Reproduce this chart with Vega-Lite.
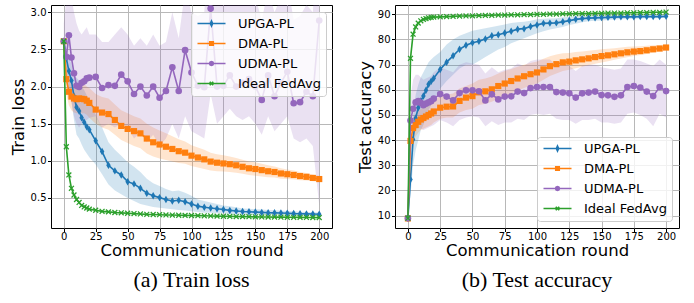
{
"$schema": "https://vega.github.io/schema/vega-lite/v6.json",
"background": "white",
"padding": {"left": 9, "top": 4, "right": 5, "bottom": 5},
"spacing": 63,
"bounds": "flush",
"config": {
  "font": "DejaVu Sans",
  "view": {"stroke": "#000", "strokeWidth": 1},
  "axis": {"domain": false, "grid": true, "gridColor": "#b8b8b8", "gridWidth": 1, "tickColor": "#000", "tickSize": 3.5, "tickWidth": 1, "labelFont": "DejaVu Sans", "labelFontSize": 10, "labelColor": "#000", "labelPadding": 1.5, "titleFont": "DejaVu Sans", "titleFontSize": 16.5, "titleFontWeight": "normal", "titleColor": "#000", "labelFlush": false},
  "axisX": {"titlePadding": 1, "labelPadding": 0},
  "legend": {"orient": "none", "title": null, "symbolSize": 100, "symbolStrokeWidth": 1.6, "symbolOpacity": 1, "labelFont": "DejaVu Sans", "labelFontSize": 13, "labelColor": "#000", "labelOffset": 29, "labelLimit": 300, "padding": 5, "rowPadding": 6, "fillColor": "rgba(255,255,255,0.8)", "strokeColor": "#cccccc", "cornerRadius": 3}
},
"resolve": {"scale": {"x": "independent", "y": "independent", "color": "independent", "stroke": "independent", "shape": "independent"}, "legend": {"color": "independent", "stroke": "independent", "shape": "independent"}},
"datasets": {
"loss": [
{"round":0,"series":"UPGA-PL","value":2.61,"lo":2.55,"hi":2.67},
{"round":2,"series":"UPGA-PL","value":2.38,"lo":2.2,"hi":2.5},
{"round":4,"series":"UPGA-PL","value":2.21,"lo":1.95,"hi":2.4},
{"round":6,"series":"UPGA-PL","value":2.08,"lo":1.8,"hi":2.3},
{"round":8,"series":"UPGA-PL","value":1.87,"lo":1.55,"hi":2.15},
{"round":10,"series":"UPGA-PL","value":1.72,"lo":1.35,"hi":2.12},
{"round":12,"series":"UPGA-PL","value":1.67,"lo":1.3,"hi":2.08},
{"round":14,"series":"UPGA-PL","value":1.58,"lo":1.22,"hi":2.0},
{"round":16,"series":"UPGA-PL","value":1.52,"lo":1.15,"hi":1.95},
{"round":18,"series":"UPGA-PL","value":1.46,"lo":1.1,"hi":1.88},
{"round":20,"series":"UPGA-PL","value":1.42,"lo":1.05,"hi":1.82},
{"round":25,"series":"UPGA-PL","value":1.27,"lo":0.95,"hi":1.62},
{"round":30,"series":"UPGA-PL","value":1.125,"lo":0.82,"hi":1.45},
{"round":35,"series":"UPGA-PL","value":0.94,"lo":0.68,"hi":1.25},
{"round":40,"series":"UPGA-PL","value":0.865,"lo":0.6,"hi":1.15},
{"round":45,"series":"UPGA-PL","value":0.81,"lo":0.55,"hi":1.07},
{"round":50,"series":"UPGA-PL","value":0.72,"lo":0.5,"hi":0.98},
{"round":55,"series":"UPGA-PL","value":0.69,"lo":0.46,"hi":0.92},
{"round":60,"series":"UPGA-PL","value":0.63,"lo":0.42,"hi":0.85},
{"round":65,"series":"UPGA-PL","value":0.565,"lo":0.4,"hi":0.76},
{"round":70,"series":"UPGA-PL","value":0.53,"lo":0.38,"hi":0.7},
{"round":75,"series":"UPGA-PL","value":0.505,"lo":0.37,"hi":0.66},
{"round":80,"series":"UPGA-PL","value":0.48,"lo":0.36,"hi":0.62},
{"round":85,"series":"UPGA-PL","value":0.46,"lo":0.35,"hi":0.59},
{"round":90,"series":"UPGA-PL","value":0.47,"lo":0.34,"hi":0.6},
{"round":95,"series":"UPGA-PL","value":0.45,"lo":0.33,"hi":0.57},
{"round":100,"series":"UPGA-PL","value":0.42,"lo":0.32,"hi":0.53},
{"round":105,"series":"UPGA-PL","value":0.39,"lo":0.31,"hi":0.48},
{"round":110,"series":"UPGA-PL","value":0.375,"lo":0.3,"hi":0.46},
{"round":115,"series":"UPGA-PL","value":0.365,"lo":0.3,"hi":0.44},
{"round":120,"series":"UPGA-PL","value":0.355,"lo":0.295,"hi":0.42},
{"round":125,"series":"UPGA-PL","value":0.345,"lo":0.29,"hi":0.4},
{"round":130,"series":"UPGA-PL","value":0.333,"lo":0.285,"hi":0.39},
{"round":135,"series":"UPGA-PL","value":0.325,"lo":0.28,"hi":0.375},
{"round":140,"series":"UPGA-PL","value":0.318,"lo":0.28,"hi":0.36},
{"round":145,"series":"UPGA-PL","value":0.314,"lo":0.278,"hi":0.355},
{"round":150,"series":"UPGA-PL","value":0.31,"lo":0.276,"hi":0.35},
{"round":155,"series":"UPGA-PL","value":0.306,"lo":0.275,"hi":0.345},
{"round":160,"series":"UPGA-PL","value":0.302,"lo":0.274,"hi":0.34},
{"round":165,"series":"UPGA-PL","value":0.3,"lo":0.273,"hi":0.335},
{"round":170,"series":"UPGA-PL","value":0.297,"lo":0.272,"hi":0.33},
{"round":175,"series":"UPGA-PL","value":0.294,"lo":0.27,"hi":0.325},
{"round":180,"series":"UPGA-PL","value":0.29,"lo":0.268,"hi":0.32},
{"round":185,"series":"UPGA-PL","value":0.288,"lo":0.267,"hi":0.315},
{"round":190,"series":"UPGA-PL","value":0.286,"lo":0.266,"hi":0.312},
{"round":195,"series":"UPGA-PL","value":0.285,"lo":0.264,"hi":0.308},
{"round":200,"series":"UPGA-PL","value":0.282,"lo":0.262,"hi":0.305},
{"round":0,"series":"DMA-PL","value":2.61,"lo":2.55,"hi":2.67},
{"round":2,"series":"DMA-PL","value":2.1,"lo":1.9,"hi":2.3},
{"round":4,"series":"DMA-PL","value":1.93,"lo":1.75,"hi":2.12},
{"round":6,"series":"DMA-PL","value":1.865,"lo":1.68,"hi":2.05},
{"round":8,"series":"DMA-PL","value":1.84,"lo":1.65,"hi":2.03},
{"round":10,"series":"DMA-PL","value":1.83,"lo":1.64,"hi":2.02},
{"round":12,"series":"DMA-PL","value":1.84,"lo":1.64,"hi":2.03},
{"round":14,"series":"DMA-PL","value":1.835,"lo":1.64,"hi":2.03},
{"round":16,"series":"DMA-PL","value":1.83,"lo":1.64,"hi":2.03},
{"round":18,"series":"DMA-PL","value":1.81,"lo":1.62,"hi":2.0},
{"round":20,"series":"DMA-PL","value":1.78,"lo":1.58,"hi":1.98},
{"round":25,"series":"DMA-PL","value":1.69,"lo":1.5,"hi":1.9},
{"round":30,"series":"DMA-PL","value":1.65,"lo":1.45,"hi":1.86},
{"round":35,"series":"DMA-PL","value":1.63,"lo":1.42,"hi":1.84},
{"round":40,"series":"DMA-PL","value":1.55,"lo":1.35,"hi":1.76},
{"round":45,"series":"DMA-PL","value":1.47,"lo":1.28,"hi":1.68},
{"round":50,"series":"DMA-PL","value":1.43,"lo":1.24,"hi":1.64},
{"round":55,"series":"DMA-PL","value":1.4,"lo":1.2,"hi":1.6},
{"round":60,"series":"DMA-PL","value":1.37,"lo":1.17,"hi":1.57},
{"round":65,"series":"DMA-PL","value":1.3,"lo":1.1,"hi":1.5},
{"round":70,"series":"DMA-PL","value":1.25,"lo":1.06,"hi":1.45},
{"round":75,"series":"DMA-PL","value":1.22,"lo":1.03,"hi":1.41},
{"round":80,"series":"DMA-PL","value":1.19,"lo":1.01,"hi":1.37},
{"round":85,"series":"DMA-PL","value":1.16,"lo":0.99,"hi":1.33},
{"round":90,"series":"DMA-PL","value":1.13,"lo":0.97,"hi":1.29},
{"round":95,"series":"DMA-PL","value":1.11,"lo":0.96,"hi":1.26},
{"round":100,"series":"DMA-PL","value":1.07,"lo":0.93,"hi":1.21},
{"round":105,"series":"DMA-PL","value":1.045,"lo":0.91,"hi":1.18},
{"round":110,"series":"DMA-PL","value":1.02,"lo":0.89,"hi":1.15},
{"round":115,"series":"DMA-PL","value":0.99,"lo":0.87,"hi":1.11},
{"round":120,"series":"DMA-PL","value":0.975,"lo":0.86,"hi":1.09},
{"round":125,"series":"DMA-PL","value":0.965,"lo":0.855,"hi":1.075},
{"round":130,"series":"DMA-PL","value":0.955,"lo":0.85,"hi":1.06},
{"round":135,"series":"DMA-PL","value":0.94,"lo":0.84,"hi":1.04},
{"round":140,"series":"DMA-PL","value":0.92,"lo":0.825,"hi":1.015},
{"round":145,"series":"DMA-PL","value":0.9,"lo":0.81,"hi":0.99},
{"round":150,"series":"DMA-PL","value":0.89,"lo":0.8,"hi":0.98},
{"round":155,"series":"DMA-PL","value":0.875,"lo":0.79,"hi":0.96},
{"round":160,"series":"DMA-PL","value":0.86,"lo":0.78,"hi":0.94},
{"round":165,"series":"DMA-PL","value":0.85,"lo":0.775,"hi":0.925},
{"round":170,"series":"DMA-PL","value":0.83,"lo":0.76,"hi":0.9},
{"round":175,"series":"DMA-PL","value":0.82,"lo":0.755,"hi":0.885},
{"round":180,"series":"DMA-PL","value":0.81,"lo":0.75,"hi":0.87},
{"round":185,"series":"DMA-PL","value":0.795,"lo":0.74,"hi":0.85},
{"round":190,"series":"DMA-PL","value":0.785,"lo":0.735,"hi":0.835},
{"round":195,"series":"DMA-PL","value":0.77,"lo":0.725,"hi":0.815},
{"round":200,"series":"DMA-PL","value":0.755,"lo":0.715,"hi":0.795},
{"round":0,"series":"UDMA-PL","value":2.61,"lo":2.4,"hi":2.85},
{"round":2,"series":"UDMA-PL","value":2.4,"lo":2.1,"hi":3.2},
{"round":4,"series":"UDMA-PL","value":2.69,"lo":1.95,"hi":3.4},
{"round":6,"series":"UDMA-PL","value":2.39,"lo":1.8,"hi":3.2},
{"round":8,"series":"UDMA-PL","value":2.18,"lo":1.6,"hi":3.0},
{"round":10,"series":"UDMA-PL","value":2.01,"lo":1.5,"hi":2.85},
{"round":12,"series":"UDMA-PL","value":1.995,"lo":1.45,"hi":2.75},
{"round":14,"series":"UDMA-PL","value":2.05,"lo":1.5,"hi":2.7},
{"round":16,"series":"UDMA-PL","value":2.07,"lo":1.55,"hi":2.75},
{"round":18,"series":"UDMA-PL","value":2.11,"lo":1.55,"hi":2.8},
{"round":20,"series":"UDMA-PL","value":2.12,"lo":1.58,"hi":2.7},
{"round":25,"series":"UDMA-PL","value":2.13,"lo":1.6,"hi":2.7},
{"round":30,"series":"UDMA-PL","value":1.98,"lo":1.45,"hi":2.6},
{"round":35,"series":"UDMA-PL","value":2.02,"lo":1.5,"hi":2.6},
{"round":40,"series":"UDMA-PL","value":2.01,"lo":1.45,"hi":2.7},
{"round":45,"series":"UDMA-PL","value":2.16,"lo":1.5,"hi":2.8},
{"round":50,"series":"UDMA-PL","value":2.07,"lo":1.45,"hi":2.7},
{"round":55,"series":"UDMA-PL","value":1.9,"lo":1.3,"hi":2.55},
{"round":60,"series":"UDMA-PL","value":2.0,"lo":1.38,"hi":2.65},
{"round":65,"series":"UDMA-PL","value":1.88,"lo":1.25,"hi":2.55},
{"round":70,"series":"UDMA-PL","value":2.0,"lo":1.35,"hi":2.7},
{"round":75,"series":"UDMA-PL","value":1.85,"lo":1.2,"hi":2.55},
{"round":80,"series":"UDMA-PL","value":1.94,"lo":1.3,"hi":2.6},
{"round":85,"series":"UDMA-PL","value":2.26,"lo":1.5,"hi":3.0},
{"round":90,"series":"UDMA-PL","value":1.94,"lo":1.3,"hi":2.65},
{"round":95,"series":"UDMA-PL","value":2.49,"lo":1.6,"hi":3.3},
{"round":100,"series":"UDMA-PL","value":2.19,"lo":1.4,"hi":3.0},
{"round":105,"series":"UDMA-PL","value":2.01,"lo":1.35,"hi":2.95},
{"round":110,"series":"UDMA-PL","value":1.99,"lo":1.3,"hi":3.0},
{"round":115,"series":"UDMA-PL","value":3.05,"lo":1.9,"hi":4.2},
{"round":120,"series":"UDMA-PL","value":2.0,"lo":1.5,"hi":3.1},
{"round":125,"series":"UDMA-PL","value":2.01,"lo":1.6,"hi":3.2},
{"round":130,"series":"UDMA-PL","value":2.15,"lo":1.7,"hi":3.3},
{"round":135,"series":"UDMA-PL","value":2.0,"lo":1.6,"hi":3.1},
{"round":140,"series":"UDMA-PL","value":2.05,"lo":1.55,"hi":3.2},
{"round":145,"series":"UDMA-PL","value":2.1,"lo":1.6,"hi":3.3},
{"round":150,"series":"UDMA-PL","value":2.0,"lo":1.5,"hi":3.2},
{"round":155,"series":"UDMA-PL","value":1.82,"lo":1.35,"hi":2.9},
{"round":160,"series":"UDMA-PL","value":2.15,"lo":1.6,"hi":3.3},
{"round":165,"series":"UDMA-PL","value":1.87,"lo":1.4,"hi":3.0},
{"round":170,"series":"UDMA-PL","value":2.05,"lo":1.5,"hi":3.2},
{"round":175,"series":"UDMA-PL","value":2.2,"lo":1.6,"hi":3.4},
{"round":180,"series":"UDMA-PL","value":1.775,"lo":1.3,"hi":2.9},
{"round":185,"series":"UDMA-PL","value":1.79,"lo":1.25,"hi":2.95},
{"round":190,"series":"UDMA-PL","value":1.93,"lo":1.3,"hi":3.1},
{"round":195,"series":"UDMA-PL","value":1.87,"lo":1.2,"hi":3.0},
{"round":200,"series":"UDMA-PL","value":2.89,"lo":0.4,"hi":4.2},
{"round":0,"series":"Ideal FedAvg","value":2.61,"lo":2.55,"hi":2.67},
{"round":2,"series":"Ideal FedAvg","value":1.19,"lo":1.12,"hi":1.26},
{"round":4,"series":"Ideal FedAvg","value":0.81,"lo":0.77,"hi":0.85},
{"round":6,"series":"Ideal FedAvg","value":0.63,"lo":0.6,"hi":0.66},
{"round":8,"series":"Ideal FedAvg","value":0.54,"lo":0.52,"hi":0.56},
{"round":10,"series":"Ideal FedAvg","value":0.48,"lo":0.465,"hi":0.495},
{"round":12,"series":"Ideal FedAvg","value":0.44,"lo":0.43,"hi":0.45},
{"round":14,"series":"Ideal FedAvg","value":0.4,"lo":0.39,"hi":0.41},
{"round":16,"series":"Ideal FedAvg","value":0.38,"lo":0.37,"hi":0.39},
{"round":18,"series":"Ideal FedAvg","value":0.365,"lo":0.356,"hi":0.374},
{"round":20,"series":"Ideal FedAvg","value":0.35,"lo":0.342,"hi":0.358},
{"round":25,"series":"Ideal FedAvg","value":0.335,"lo":0.328,"hi":0.342},
{"round":30,"series":"Ideal FedAvg","value":0.32,"lo":0.314,"hi":0.326},
{"round":35,"series":"Ideal FedAvg","value":0.313,"lo":0.307,"hi":0.319},
{"round":40,"series":"Ideal FedAvg","value":0.305,"lo":0.3,"hi":0.31},
{"round":45,"series":"Ideal FedAvg","value":0.3,"lo":0.295,"hi":0.305},
{"round":50,"series":"Ideal FedAvg","value":0.295,"lo":0.29,"hi":0.3},
{"round":55,"series":"Ideal FedAvg","value":0.29,"lo":0.285,"hi":0.295},
{"round":60,"series":"Ideal FedAvg","value":0.285,"lo":0.28,"hi":0.29},
{"round":65,"series":"Ideal FedAvg","value":0.28,"lo":0.276,"hi":0.284},
{"round":70,"series":"Ideal FedAvg","value":0.278,"lo":0.274,"hi":0.282},
{"round":75,"series":"Ideal FedAvg","value":0.275,"lo":0.271,"hi":0.279},
{"round":80,"series":"Ideal FedAvg","value":0.272,"lo":0.268,"hi":0.276},
{"round":85,"series":"Ideal FedAvg","value":0.27,"lo":0.266,"hi":0.274},
{"round":90,"series":"Ideal FedAvg","value":0.268,"lo":0.264,"hi":0.272},
{"round":95,"series":"Ideal FedAvg","value":0.266,"lo":0.262,"hi":0.27},
{"round":100,"series":"Ideal FedAvg","value":0.264,"lo":0.26,"hi":0.268},
{"round":105,"series":"Ideal FedAvg","value":0.262,"lo":0.258,"hi":0.266},
{"round":110,"series":"Ideal FedAvg","value":0.26,"lo":0.256,"hi":0.264},
{"round":115,"series":"Ideal FedAvg","value":0.258,"lo":0.254,"hi":0.262},
{"round":120,"series":"Ideal FedAvg","value":0.256,"lo":0.252,"hi":0.26},
{"round":125,"series":"Ideal FedAvg","value":0.254,"lo":0.25,"hi":0.258},
{"round":130,"series":"Ideal FedAvg","value":0.252,"lo":0.248,"hi":0.256},
{"round":135,"series":"Ideal FedAvg","value":0.25,"lo":0.246,"hi":0.254},
{"round":140,"series":"Ideal FedAvg","value":0.249,"lo":0.245,"hi":0.253},
{"round":145,"series":"Ideal FedAvg","value":0.248,"lo":0.244,"hi":0.252},
{"round":150,"series":"Ideal FedAvg","value":0.246,"lo":0.242,"hi":0.25},
{"round":155,"series":"Ideal FedAvg","value":0.245,"lo":0.241,"hi":0.249},
{"round":160,"series":"Ideal FedAvg","value":0.244,"lo":0.24,"hi":0.248},
{"round":165,"series":"Ideal FedAvg","value":0.243,"lo":0.239,"hi":0.247},
{"round":170,"series":"Ideal FedAvg","value":0.242,"lo":0.238,"hi":0.246},
{"round":175,"series":"Ideal FedAvg","value":0.241,"lo":0.237,"hi":0.245},
{"round":180,"series":"Ideal FedAvg","value":0.24,"lo":0.236,"hi":0.244},
{"round":185,"series":"Ideal FedAvg","value":0.239,"lo":0.235,"hi":0.243},
{"round":190,"series":"Ideal FedAvg","value":0.238,"lo":0.234,"hi":0.242},
{"round":195,"series":"Ideal FedAvg","value":0.237,"lo":0.233,"hi":0.241},
{"round":200,"series":"Ideal FedAvg","value":0.236,"lo":0.232,"hi":0.24}
],
"acc": [
{"round":0,"series":"UPGA-PL","value":9.0,"lo":8.5,"hi":9.5},
{"round":2,"series":"UPGA-PL","value":24.4,"lo":18,"hi":32},
{"round":4,"series":"UPGA-PL","value":40.3,"lo":30,"hi":50},
{"round":6,"series":"UPGA-PL","value":48.7,"lo":36,"hi":58},
{"round":8,"series":"UPGA-PL","value":52.9,"lo":40,"hi":62},
{"round":10,"series":"UPGA-PL","value":55.6,"lo":44,"hi":65},
{"round":12,"series":"UPGA-PL","value":57.5,"lo":46,"hi":67},
{"round":14,"series":"UPGA-PL","value":59.8,"lo":49,"hi":69},
{"round":16,"series":"UPGA-PL","value":62.2,"lo":52,"hi":71},
{"round":18,"series":"UPGA-PL","value":63.4,"lo":54,"hi":72},
{"round":20,"series":"UPGA-PL","value":64.6,"lo":56,"hi":73},
{"round":25,"series":"UPGA-PL","value":68.1,"lo":60.5,"hi":75},
{"round":30,"series":"UPGA-PL","value":71.0,"lo":63.5,"hi":78},
{"round":35,"series":"UPGA-PL","value":73.5,"lo":66,"hi":80},
{"round":40,"series":"UPGA-PL","value":76.1,"lo":68.5,"hi":81.5},
{"round":45,"series":"UPGA-PL","value":77.7,"lo":70,"hi":82.5},
{"round":50,"series":"UPGA-PL","value":78.7,"lo":70,"hi":83.5},
{"round":55,"series":"UPGA-PL","value":79.3,"lo":71.5,"hi":84},
{"round":60,"series":"UPGA-PL","value":80.2,"lo":73,"hi":84.5},
{"round":65,"series":"UPGA-PL","value":81.5,"lo":74.5,"hi":85},
{"round":70,"series":"UPGA-PL","value":81.9,"lo":76,"hi":85.5},
{"round":75,"series":"UPGA-PL","value":82.6,"lo":77,"hi":86},
{"round":80,"series":"UPGA-PL","value":83.3,"lo":78.5,"hi":86.5},
{"round":85,"series":"UPGA-PL","value":84.1,"lo":79.5,"hi":86.8},
{"round":90,"series":"UPGA-PL","value":84.3,"lo":80.5,"hi":87},
{"round":95,"series":"UPGA-PL","value":85.2,"lo":81.5,"hi":87.4},
{"round":100,"series":"UPGA-PL","value":85.8,"lo":82.5,"hi":88},
{"round":105,"series":"UPGA-PL","value":86.4,"lo":83.3,"hi":88.2},
{"round":110,"series":"UPGA-PL","value":86.5,"lo":84,"hi":88.3},
{"round":115,"series":"UPGA-PL","value":86.6,"lo":84.5,"hi":88.4},
{"round":120,"series":"UPGA-PL","value":87.0,"lo":85,"hi":88.8},
{"round":125,"series":"UPGA-PL","value":87.5,"lo":85.8,"hi":89},
{"round":130,"series":"UPGA-PL","value":88.0,"lo":86.3,"hi":89.2},
{"round":135,"series":"UPGA-PL","value":88.3,"lo":86.8,"hi":89.3},
{"round":140,"series":"UPGA-PL","value":88.5,"lo":87.2,"hi":89.4},
{"round":145,"series":"UPGA-PL","value":88.6,"lo":87.4,"hi":89.4},
{"round":150,"series":"UPGA-PL","value":88.7,"lo":87.5,"hi":89.5},
{"round":155,"series":"UPGA-PL","value":88.8,"lo":87.7,"hi":89.5},
{"round":160,"series":"UPGA-PL","value":88.9,"lo":87.9,"hi":89.6},
{"round":165,"series":"UPGA-PL","value":89.0,"lo":88,"hi":89.6},
{"round":170,"series":"UPGA-PL","value":89.0,"lo":88.1,"hi":89.6},
{"round":175,"series":"UPGA-PL","value":89.0,"lo":88.2,"hi":89.7},
{"round":180,"series":"UPGA-PL","value":89.1,"lo":88.3,"hi":89.7},
{"round":185,"series":"UPGA-PL","value":89.1,"lo":88.4,"hi":89.7},
{"round":190,"series":"UPGA-PL","value":89.1,"lo":88.4,"hi":89.8},
{"round":195,"series":"UPGA-PL","value":89.1,"lo":88.5,"hi":89.8},
{"round":200,"series":"UPGA-PL","value":89.2,"lo":88.6,"hi":89.8},
{"round":0,"series":"DMA-PL","value":8.9,"lo":8.5,"hi":9.3},
{"round":2,"series":"DMA-PL","value":39.7,"lo":35,"hi":44},
{"round":4,"series":"DMA-PL","value":44.8,"lo":40,"hi":49},
{"round":6,"series":"DMA-PL","value":46.0,"lo":41.5,"hi":50.5},
{"round":8,"series":"DMA-PL","value":47.3,"lo":43,"hi":51.5},
{"round":10,"series":"DMA-PL","value":48.2,"lo":44,"hi":52.5},
{"round":12,"series":"DMA-PL","value":48.8,"lo":44.5,"hi":53},
{"round":14,"series":"DMA-PL","value":49.4,"lo":45,"hi":53.8},
{"round":16,"series":"DMA-PL","value":50.0,"lo":45.5,"hi":54.5},
{"round":18,"series":"DMA-PL","value":50.6,"lo":46,"hi":55.2},
{"round":20,"series":"DMA-PL","value":51.4,"lo":47,"hi":56},
{"round":25,"series":"DMA-PL","value":52.9,"lo":48.5,"hi":57.5},
{"round":30,"series":"DMA-PL","value":53.3,"lo":49,"hi":58},
{"round":35,"series":"DMA-PL","value":53.4,"lo":49,"hi":58.5},
{"round":40,"series":"DMA-PL","value":55.6,"lo":51,"hi":60.5},
{"round":45,"series":"DMA-PL","value":56.9,"lo":52,"hi":61.5},
{"round":50,"series":"DMA-PL","value":57.5,"lo":52.5,"hi":62.5},
{"round":55,"series":"DMA-PL","value":59.0,"lo":54,"hi":64},
{"round":60,"series":"DMA-PL","value":59.4,"lo":54.5,"hi":64.5},
{"round":65,"series":"DMA-PL","value":60.2,"lo":55.3,"hi":65.3},
{"round":70,"series":"DMA-PL","value":61.5,"lo":56.5,"hi":66.5},
{"round":75,"series":"DMA-PL","value":62.5,"lo":57.5,"hi":67.5},
{"round":80,"series":"DMA-PL","value":63.5,"lo":58.5,"hi":68.3},
{"round":85,"series":"DMA-PL","value":64.5,"lo":59.7,"hi":69.2},
{"round":90,"series":"DMA-PL","value":65.4,"lo":60.7,"hi":70},
{"round":95,"series":"DMA-PL","value":66.2,"lo":61.7,"hi":70.7},
{"round":100,"series":"DMA-PL","value":66.9,"lo":62.5,"hi":71.3},
{"round":105,"series":"DMA-PL","value":68.1,"lo":64,"hi":72.3},
{"round":110,"series":"DMA-PL","value":69.4,"lo":65.5,"hi":73.3},
{"round":115,"series":"DMA-PL","value":70.2,"lo":66.5,"hi":74},
{"round":120,"series":"DMA-PL","value":70.9,"lo":67.5,"hi":74.5},
{"round":125,"series":"DMA-PL","value":71.2,"lo":68,"hi":74.6},
{"round":130,"series":"DMA-PL","value":71.7,"lo":68.6,"hi":75},
{"round":135,"series":"DMA-PL","value":72.1,"lo":69.2,"hi":75.2},
{"round":140,"series":"DMA-PL","value":72.5,"lo":69.8,"hi":75.5},
{"round":145,"series":"DMA-PL","value":73.0,"lo":70.4,"hi":75.8},
{"round":150,"series":"DMA-PL","value":73.4,"lo":70.9,"hi":76.1},
{"round":155,"series":"DMA-PL","value":73.7,"lo":71.4,"hi":76.3},
{"round":160,"series":"DMA-PL","value":74.1,"lo":71.9,"hi":76.5},
{"round":165,"series":"DMA-PL","value":74.5,"lo":72.4,"hi":76.8},
{"round":170,"series":"DMA-PL","value":74.9,"lo":72.9,"hi":77.1},
{"round":175,"series":"DMA-PL","value":75.2,"lo":73.4,"hi":77.2},
{"round":180,"series":"DMA-PL","value":75.4,"lo":73.8,"hi":77.3},
{"round":185,"series":"DMA-PL","value":75.7,"lo":74.2,"hi":77.5},
{"round":190,"series":"DMA-PL","value":76.1,"lo":74.8,"hi":77.7},
{"round":195,"series":"DMA-PL","value":76.4,"lo":75.3,"hi":77.8},
{"round":200,"series":"DMA-PL","value":76.8,"lo":75.8,"hi":78},
{"round":0,"series":"UDMA-PL","value":9.0,"lo":8.5,"hi":9.5},
{"round":2,"series":"UDMA-PL","value":47.8,"lo":38,"hi":57},
{"round":4,"series":"UDMA-PL","value":52.5,"lo":41,"hi":64},
{"round":6,"series":"UDMA-PL","value":55.0,"lo":44,"hi":66},
{"round":8,"series":"UDMA-PL","value":55.5,"lo":45,"hi":66},
{"round":10,"series":"UDMA-PL","value":54.8,"lo":44.5,"hi":65},
{"round":12,"series":"UDMA-PL","value":53.9,"lo":44,"hi":64},
{"round":14,"series":"UDMA-PL","value":54.5,"lo":44.5,"hi":64.5},
{"round":16,"series":"UDMA-PL","value":55.0,"lo":45,"hi":65},
{"round":18,"series":"UDMA-PL","value":55.5,"lo":45.5,"hi":65.5},
{"round":20,"series":"UDMA-PL","value":56.5,"lo":46,"hi":67},
{"round":25,"series":"UDMA-PL","value":58.3,"lo":48,"hi":69},
{"round":30,"series":"UDMA-PL","value":57.3,"lo":47,"hi":68},
{"round":35,"series":"UDMA-PL","value":55.8,"lo":45.5,"hi":67},
{"round":40,"series":"UDMA-PL","value":58.7,"lo":48,"hi":70},
{"round":45,"series":"UDMA-PL","value":59.8,"lo":49,"hi":71},
{"round":50,"series":"UDMA-PL","value":59.8,"lo":49.5,"hi":70.5},
{"round":55,"series":"UDMA-PL","value":59.4,"lo":49,"hi":70},
{"round":60,"series":"UDMA-PL","value":55.8,"lo":45.5,"hi":66.5},
{"round":65,"series":"UDMA-PL","value":58.2,"lo":47.5,"hi":69},
{"round":70,"series":"UDMA-PL","value":56.2,"lo":46,"hi":67},
{"round":75,"series":"UDMA-PL","value":57.3,"lo":47,"hi":68},
{"round":80,"series":"UDMA-PL","value":57.4,"lo":47,"hi":68.5},
{"round":85,"series":"UDMA-PL","value":59.3,"lo":48.5,"hi":70.5},
{"round":90,"series":"UDMA-PL","value":58.7,"lo":48,"hi":69.5},
{"round":95,"series":"UDMA-PL","value":60.7,"lo":50,"hi":71.5},
{"round":100,"series":"UDMA-PL","value":61.1,"lo":50.5,"hi":72},
{"round":105,"series":"UDMA-PL","value":61.1,"lo":50,"hi":72},
{"round":110,"series":"UDMA-PL","value":61.1,"lo":50.5,"hi":72},
{"round":115,"series":"UDMA-PL","value":59.1,"lo":48.5,"hi":70},
{"round":120,"series":"UDMA-PL","value":58.9,"lo":48,"hi":70},
{"round":125,"series":"UDMA-PL","value":58.6,"lo":48,"hi":69.5},
{"round":130,"series":"UDMA-PL","value":56.9,"lo":46.5,"hi":67.5},
{"round":135,"series":"UDMA-PL","value":58.6,"lo":48,"hi":69.5},
{"round":140,"series":"UDMA-PL","value":58.9,"lo":48,"hi":70},
{"round":145,"series":"UDMA-PL","value":59.3,"lo":48.5,"hi":70},
{"round":150,"series":"UDMA-PL","value":57.9,"lo":47,"hi":69},
{"round":155,"series":"UDMA-PL","value":57.8,"lo":47,"hi":68.5},
{"round":160,"series":"UDMA-PL","value":57.2,"lo":46.5,"hi":68},
{"round":165,"series":"UDMA-PL","value":57.8,"lo":47,"hi":68.5},
{"round":170,"series":"UDMA-PL","value":61.1,"lo":50.5,"hi":72},
{"round":175,"series":"UDMA-PL","value":61.5,"lo":51,"hi":72},
{"round":180,"series":"UDMA-PL","value":60.9,"lo":50,"hi":71.5},
{"round":185,"series":"UDMA-PL","value":59.3,"lo":48.5,"hi":70.5},
{"round":190,"series":"UDMA-PL","value":57.5,"lo":45.5,"hi":69.5},
{"round":195,"series":"UDMA-PL","value":61.1,"lo":50.5,"hi":72},
{"round":200,"series":"UDMA-PL","value":59.5,"lo":49,"hi":70},
{"round":0,"series":"Ideal FedAvg","value":9.0,"lo":8.7,"hi":9.3},
{"round":2,"series":"Ideal FedAvg","value":72.5,"lo":70.5,"hi":74.5},
{"round":4,"series":"Ideal FedAvg","value":82.1,"lo":81,"hi":83},
{"round":6,"series":"Ideal FedAvg","value":85.0,"lo":84.2,"hi":85.7},
{"round":8,"series":"Ideal FedAvg","value":86.5,"lo":86,"hi":87},
{"round":10,"series":"Ideal FedAvg","value":87.4,"lo":87,"hi":87.8},
{"round":12,"series":"Ideal FedAvg","value":88.0,"lo":87.7,"hi":88.3},
{"round":14,"series":"Ideal FedAvg","value":88.3,"lo":88,"hi":88.6},
{"round":16,"series":"Ideal FedAvg","value":88.6,"lo":88.3,"hi":88.9},
{"round":18,"series":"Ideal FedAvg","value":88.8,"lo":88.5,"hi":89.1},
{"round":20,"series":"Ideal FedAvg","value":88.9,"lo":88.6,"hi":89.2},
{"round":25,"series":"Ideal FedAvg","value":89.0,"lo":88.7,"hi":89.3},
{"round":30,"series":"Ideal FedAvg","value":89.1,"lo":88.8,"hi":89.4},
{"round":35,"series":"Ideal FedAvg","value":89.2,"lo":88.9,"hi":89.5},
{"round":40,"series":"Ideal FedAvg","value":89.3,"lo":89,"hi":89.6},
{"round":45,"series":"Ideal FedAvg","value":89.35,"lo":89.05,"hi":89.65},
{"round":50,"series":"Ideal FedAvg","value":89.4,"lo":89.1,"hi":89.7},
{"round":55,"series":"Ideal FedAvg","value":89.5,"lo":89.2,"hi":89.8},
{"round":60,"series":"Ideal FedAvg","value":89.55,"lo":89.25,"hi":89.85},
{"round":65,"series":"Ideal FedAvg","value":89.6,"lo":89.3,"hi":89.9},
{"round":70,"series":"Ideal FedAvg","value":89.7,"lo":89.4,"hi":90},
{"round":75,"series":"Ideal FedAvg","value":89.7,"lo":89.4,"hi":90},
{"round":80,"series":"Ideal FedAvg","value":89.8,"lo":89.5,"hi":90.1},
{"round":85,"series":"Ideal FedAvg","value":89.8,"lo":89.5,"hi":90.1},
{"round":90,"series":"Ideal FedAvg","value":89.9,"lo":89.6,"hi":90.2},
{"round":95,"series":"Ideal FedAvg","value":89.9,"lo":89.6,"hi":90.2},
{"round":100,"series":"Ideal FedAvg","value":90.0,"lo":89.7,"hi":90.3},
{"round":105,"series":"Ideal FedAvg","value":90.0,"lo":89.7,"hi":90.3},
{"round":110,"series":"Ideal FedAvg","value":90.1,"lo":89.8,"hi":90.4},
{"round":115,"series":"Ideal FedAvg","value":90.1,"lo":89.8,"hi":90.4},
{"round":120,"series":"Ideal FedAvg","value":90.2,"lo":89.9,"hi":90.5},
{"round":125,"series":"Ideal FedAvg","value":90.2,"lo":89.9,"hi":90.5},
{"round":130,"series":"Ideal FedAvg","value":90.3,"lo":90,"hi":90.6},
{"round":135,"series":"Ideal FedAvg","value":90.3,"lo":90,"hi":90.6},
{"round":140,"series":"Ideal FedAvg","value":90.3,"lo":90,"hi":90.6},
{"round":145,"series":"Ideal FedAvg","value":90.4,"lo":90.1,"hi":90.7},
{"round":150,"series":"Ideal FedAvg","value":90.4,"lo":90.1,"hi":90.7},
{"round":155,"series":"Ideal FedAvg","value":90.5,"lo":90.2,"hi":90.8},
{"round":160,"series":"Ideal FedAvg","value":90.5,"lo":90.2,"hi":90.8},
{"round":165,"series":"Ideal FedAvg","value":90.5,"lo":90.2,"hi":90.8},
{"round":170,"series":"Ideal FedAvg","value":90.6,"lo":90.3,"hi":90.9},
{"round":175,"series":"Ideal FedAvg","value":90.6,"lo":90.3,"hi":90.9},
{"round":180,"series":"Ideal FedAvg","value":90.7,"lo":90.4,"hi":91},
{"round":185,"series":"Ideal FedAvg","value":90.7,"lo":90.4,"hi":91},
{"round":190,"series":"Ideal FedAvg","value":90.8,"lo":90.5,"hi":91.1},
{"round":195,"series":"Ideal FedAvg","value":90.8,"lo":90.5,"hi":91.1},
{"round":200,"series":"Ideal FedAvg","value":90.9,"lo":90.6,"hi":91.2}
]
},
"hconcat": [
{
  "width": 281, "height": 223,
  "data": {"name": "loss"},
  "title": {"text": "(a) Train loss", "orient": "bottom", "font": "Liberation Serif", "fontSize": 22, "fontWeight": "normal", "color": "#000", "offset": 11},
  "encoding": {
    "x": {"field": "round", "type": "quantitative", "scale": {"domain": [-10, 210], "nice": false, "zero": false}, "axis": {"values": [0,25,50,75,100,125,150,175,200], "title": "Communication round"}},
    "y": {"field": "value", "type": "quantitative", "scale": {"domain": [0.096, 3.098], "nice": false, "zero": false}, "axis": {"values": [0.5,1,1.5,2,2.5,3], "format": ".1f", "title": "Train loss", "titlePadding": 4}}
  },
  "layer": [
    {"transform": [{"filter": "datum.series === 'UPGA-PL'"}], "mark": {"type": "area", "color": "#1f77b4", "opacity": 0.2, "clip": true}, "encoding": {"y": {"field": "lo", "type": "quantitative"}, "y2": {"field": "hi"}}},
    {"transform": [{"filter": "datum.series === 'DMA-PL'"}], "mark": {"type": "area", "color": "#ff7f0e", "opacity": 0.2, "clip": true}, "encoding": {"y": {"field": "lo", "type": "quantitative"}, "y2": {"field": "hi"}}},
    {"transform": [{"filter": "datum.series === 'UDMA-PL'"}], "mark": {"type": "area", "color": "#9467bd", "opacity": 0.2, "clip": true}, "encoding": {"y": {"field": "lo", "type": "quantitative"}, "y2": {"field": "hi"}}},
    {"transform": [{"filter": "datum.series === 'Ideal FedAvg'"}], "mark": {"type": "area", "color": "#2ca02c", "opacity": 0.2, "clip": true}, "encoding": {"y": {"field": "lo", "type": "quantitative"}, "y2": {"field": "hi"}}},
    {"transform": [{"filter": "datum.series === 'UPGA-PL'"}], "mark": {"type": "line", "color": "#1f77b4", "strokeWidth": 1.6, "clip": true, "point": {"filled": true, "shape": "M0,-1L0.6,0L0,1L-0.6,0Z", "size": 56, "color": "#1f77b4"}}},
    {"transform": [{"filter": "datum.series === 'DMA-PL'"}], "mark": {"type": "line", "color": "#ff7f0e", "strokeWidth": 1.6, "clip": true, "point": {"filled": true, "shape": "square", "size": 38, "color": "#ff7f0e"}}},
    {"transform": [{"filter": "datum.series === 'UDMA-PL'"}], "mark": {"type": "line", "color": "#9467bd", "strokeWidth": 1.6, "clip": true, "point": {"filled": true, "shape": "circle", "size": 44, "color": "#9467bd"}}},
    {"transform": [{"filter": "datum.series === 'Ideal FedAvg'"}], "mark": {"type": "line", "color": "#2ca02c", "strokeWidth": 1.6, "clip": true, "point": {"filled": false, "shape": "M-1,-1L1,1M-1,1L1,-1", "size": 24, "strokeWidth": 1.3, "color": "#2ca02c"}}},
    {"transform": [{"filter": "datum.round === 0"}], "mark": {"type": "point", "filled": true, "size": 0, "strokeWidth": 1.6},
     "encoding": {
       "color": {"field": "series", "type": "nominal", "scale": {"domain": ["UPGA-PL","DMA-PL","UDMA-PL","Ideal FedAvg"], "range": ["#1f77b4","#ff7f0e","#9467bd","#2ca02c"]}, "legend": {"orient": "none", "legendX": 140, "legendY": 7}},
       "stroke": {"field": "series", "type": "nominal", "scale": {"domain": ["UPGA-PL","DMA-PL","UDMA-PL","Ideal FedAvg"], "range": ["#1f77b4","#ff7f0e","#9467bd","#2ca02c"]}, "legend": {"orient": "none", "legendX": 140, "legendY": 7}},
       "shape": {"field": "series", "type": "nominal", "scale": {"domain": ["UPGA-PL","DMA-PL","UDMA-PL","Ideal FedAvg"], "range": ["M-1,0H4.6M1.8,-0.5L2.03,0L1.8,0.5L1.57,0Z","M-1,0H4.6M1.45,-0.35H2.15V0.35H1.45Z","M-1,0H4.6M2.2,0L2.083,0.283L1.8,0.4L1.517,0.283L1.4,0L1.517,-0.283L1.8,-0.4L2.083,-0.283Z","M-1,0H4.6M1.45,-0.35L2.15,0.35M1.45,0.35L2.15,-0.35"]}, "legend": {"orient": "none", "legendX": 140, "legendY": 7}}
     }}
  ]
},
{
  "width": 284, "height": 223,
  "data": {"name": "acc"},
  "title": {"text": "(b) Test accuracy", "orient": "bottom", "font": "Liberation Serif", "fontSize": 22, "fontWeight": "normal", "color": "#000", "offset": 11},
  "encoding": {
    "x": {"field": "round", "type": "quantitative", "scale": {"domain": [-10, 210], "nice": false, "zero": false}, "axis": {"values": [0,25,50,75,100,125,150,175,200], "title": "Communication round"}},
    "y": {"field": "value", "type": "quantitative", "scale": {"domain": [5.1, 93.7], "nice": false, "zero": false}, "axis": {"values": [10,20,30,40,50,60,70,80,90], "title": "Test accuracy", "titlePadding": 4}}
  },
  "layer": [
    {"transform": [{"filter": "datum.series === 'UPGA-PL'"}], "mark": {"type": "area", "color": "#1f77b4", "opacity": 0.2, "clip": true}, "encoding": {"y": {"field": "lo", "type": "quantitative"}, "y2": {"field": "hi"}}},
    {"transform": [{"filter": "datum.series === 'DMA-PL'"}], "mark": {"type": "area", "color": "#ff7f0e", "opacity": 0.2, "clip": true}, "encoding": {"y": {"field": "lo", "type": "quantitative"}, "y2": {"field": "hi"}}},
    {"transform": [{"filter": "datum.series === 'UDMA-PL'"}], "mark": {"type": "area", "color": "#9467bd", "opacity": 0.2, "clip": true}, "encoding": {"y": {"field": "lo", "type": "quantitative"}, "y2": {"field": "hi"}}},
    {"transform": [{"filter": "datum.series === 'Ideal FedAvg'"}], "mark": {"type": "area", "color": "#2ca02c", "opacity": 0.2, "clip": true}, "encoding": {"y": {"field": "lo", "type": "quantitative"}, "y2": {"field": "hi"}}},
    {"transform": [{"filter": "datum.series === 'UPGA-PL'"}], "mark": {"type": "line", "color": "#1f77b4", "strokeWidth": 1.6, "clip": true, "point": {"filled": true, "shape": "M0,-1L0.6,0L0,1L-0.6,0Z", "size": 56, "color": "#1f77b4"}}},
    {"transform": [{"filter": "datum.series === 'DMA-PL'"}], "mark": {"type": "line", "color": "#ff7f0e", "strokeWidth": 1.6, "clip": true, "point": {"filled": true, "shape": "square", "size": 38, "color": "#ff7f0e"}}},
    {"transform": [{"filter": "datum.series === 'UDMA-PL'"}], "mark": {"type": "line", "color": "#9467bd", "strokeWidth": 1.6, "clip": true, "point": {"filled": true, "shape": "circle", "size": 44, "color": "#9467bd"}}},
    {"transform": [{"filter": "datum.series === 'Ideal FedAvg'"}], "mark": {"type": "line", "color": "#2ca02c", "strokeWidth": 1.6, "clip": true, "point": {"filled": false, "shape": "M-1,-1L1,1M-1,1L1,-1", "size": 24, "strokeWidth": 1.3, "color": "#2ca02c"}}},
    {"transform": [{"filter": "datum.round === 0"}], "mark": {"type": "point", "filled": true, "size": 0, "strokeWidth": 1.6},
     "encoding": {
       "color": {"field": "series", "type": "nominal", "scale": {"domain": ["UPGA-PL","DMA-PL","UDMA-PL","Ideal FedAvg"], "range": ["#1f77b4","#ff7f0e","#9467bd","#2ca02c"]}, "legend": {"orient": "none", "legendX": 142, "legendY": 132}},
       "stroke": {"field": "series", "type": "nominal", "scale": {"domain": ["UPGA-PL","DMA-PL","UDMA-PL","Ideal FedAvg"], "range": ["#1f77b4","#ff7f0e","#9467bd","#2ca02c"]}, "legend": {"orient": "none", "legendX": 142, "legendY": 132}},
       "shape": {"field": "series", "type": "nominal", "scale": {"domain": ["UPGA-PL","DMA-PL","UDMA-PL","Ideal FedAvg"], "range": ["M-1,0H4.6M1.8,-0.5L2.03,0L1.8,0.5L1.57,0Z","M-1,0H4.6M1.45,-0.35H2.15V0.35H1.45Z","M-1,0H4.6M2.2,0L2.083,0.283L1.8,0.4L1.517,0.283L1.4,0L1.517,-0.283L1.8,-0.4L2.083,-0.283Z","M-1,0H4.6M1.45,-0.35L2.15,0.35M1.45,0.35L2.15,-0.35"]}, "legend": {"orient": "none", "legendX": 142, "legendY": 132}}
     }}
  ]
}
]
}
